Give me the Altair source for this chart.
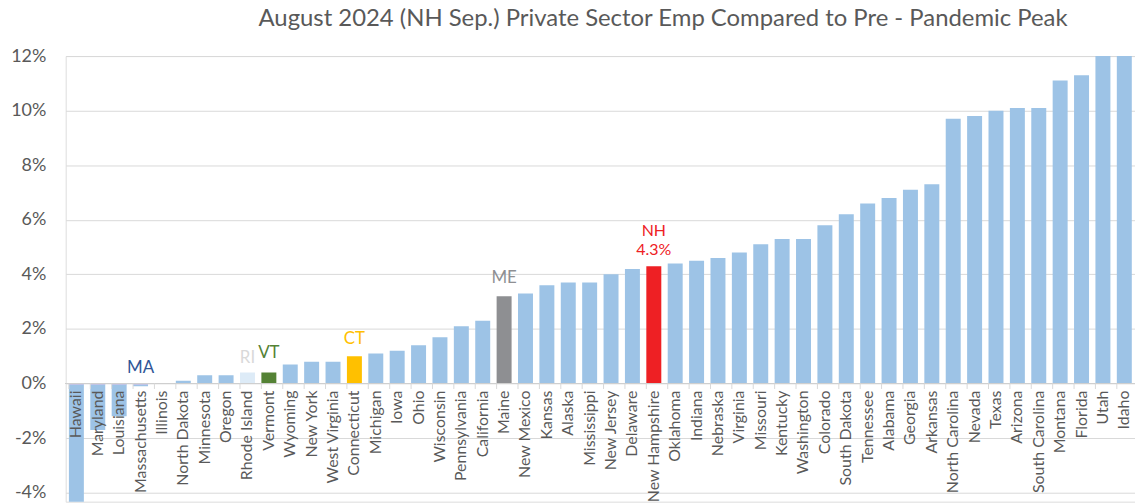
import altair as alt
import pandas as pd

states = ["Hawaii", "Maryland", "Louisiana", "Massachusetts", "Illinois", "North Dakota",
          "Minnesota", "Oregon", "Rhode Island", "Vermont", "Wyoming", "New York",
          "West Virginia", "Connecticut", "Michigan", "Iowa", "Ohio", "Wisconsin",
          "Pennsylvania", "California", "Maine", "New Mexico", "Kansas", "Alaska",
          "Mississippi", "New Jersey", "Delaware", "New Hampshire", "Oklahoma", "Indiana",
          "Nebraska", "Virginia", "Missouri", "Kentucky", "Washington", "Colorado",
          "South Dakota", "Tennessee", "Alabama", "Georgia", "Arkansas", "North Carolina",
          "Nevada", "Texas", "Arizona", "South Carolina", "Montana", "Florida", "Utah", "Idaho"]
values = [-4.6, -1.7, -1.2, -0.1, 0.0, 0.1, 0.3, 0.3, 0.4, 0.4, 0.7, 0.8, 0.8, 1.0, 1.1,
          1.2, 1.4, 1.7, 2.1, 2.3, 3.2, 3.3, 3.6, 3.7, 3.7, 4.0, 4.2, 4.3, 4.4, 4.5, 4.6,
          4.8, 5.1, 5.3, 5.3, 5.8, 6.2, 6.6, 6.8, 7.1, 7.3, 9.7, 9.8, 10.0, 10.1, 10.1,
          11.1, 11.3, 12.2, 12.6]
y_ticks = [-4, -2, 0, 2, 4, 6, 8, 10, 12]

ann_states = ["Massachusetts", "Rhode Island", "Vermont", "Connecticut", "Maine",
              "New Hampshire", "New Hampshire"]
ann_labels = ["MA", "RI", "VT", "CT", "ME", "NH", "4.3%"]

title = "August 2024 (NH Sep.) Private Sector Emp Compared to Pre - Pandemic Peak"

# styles
bar_colors = {"Rhode Island": "#DDEBF7", "Vermont": "#548235", "Connecticut": "#FFC000",
              "Maine": "#8E8F92", "New Hampshire": "#EE2024"}
text_colors = {"MA": "#2F5597", "RI": "#D9D9D9", "VT": "#548235",
               "CT": "#FFC000", "ME": "#8E8F92", "NH": "#EE2024", "4.3%": "#EE2024"}
text_dy = {"MA": -11, "RI": -10, "VT": -15, "CT": -12, "ME": -13, "NH": -30, "4.3%": -11}
text_size = {"MA": 17, "RI": 17, "VT": 17, "CT": 17, "ME": 17, "NH": 16, "4.3%": 16}
BASE = "#9DC3E6"
GREY = "#595959"
FONT = "Lato"

df = pd.DataFrame({"state": states, "value": values})
df["group"] = [s if s in bar_colors else "other" for s in states]
df["top"] = df["value"].clip(lower=0)

color_domain = ["other"] + list(bar_colors.keys())
color_range = [BASE] + list(bar_colors.values())

xenc = alt.X("state:N", sort=states, axis=None,
             scale=alt.Scale(paddingInner=0.3, paddingOuter=0.15))
yscale = alt.Scale(domain=[-4.33, 12], nice=False, zero=False)

bars = alt.Chart(df).mark_bar(clip=True).encode(
    x=xenc,
    y=alt.Y("value:Q", scale=yscale,
            axis=alt.Axis(values=y_ticks, labelExpr="datum.value + '%'", title=None,
                          domain=False, ticks=False, labelPadding=20, labelFontSize=18,
                          labelColor=GREY, labelFont=FONT, gridColor="#D9D9D9",
                          gridWidth=1)),
    color=alt.Color("group:N", scale=alt.Scale(domain=color_domain, range=color_range),
                    legend=None),
)

zero_rule = alt.Chart(df).mark_rule(color="#D0D0D0", strokeWidth=1).encode(
    y=alt.datum(0)
)

ticks = alt.Chart(df).mark_rule(color="#D9D9D9", strokeWidth=1).encode(
    x=alt.X("state:N", sort=states, bandPosition=0),
    y=alt.datum(0),
    y2=alt.datum(-0.2),
)

xlabels = alt.Chart(df).mark_text(angle=270, align="right", baseline="middle", dx=-7,
                                  fontSize=16, font=FONT, color=GREY).encode(
    x=alt.X("state:N", sort=states),
    y=alt.datum(0),
    text="state:N",
)

layers = [bars, zero_rule, ticks, xlabels]
for st, lab in zip(ann_states, ann_labels):
    sub = df[df["state"] == st].copy()
    sub["label"] = lab
    t = alt.Chart(sub).mark_text(baseline="alphabetic", align="center", dy=text_dy[lab],
                                 fontSize=text_size[lab], font=FONT,
                                 color=text_colors[lab]).encode(
        x=alt.X("state:N", sort=states),
        y=alt.Y("top:Q"),
        text="label:N",
    )
    layers.append(t)

chart = alt.layer(*layers).properties(
    width=1075, height=448,
    autosize=alt.AutoSizeParams(type="none"),
    padding={"left": 58, "top": 47, "right": 0, "bottom": 0},
    title=alt.TitleParams(title, fontSize=24, font=FONT, color=GREY, fontWeight="normal",
                          anchor="middle", dx=63, offset=16),
).configure_view(stroke=None).configure(background="white")

chart.save("out.html", embed_options={"renderer": "svg", "actions": False})
